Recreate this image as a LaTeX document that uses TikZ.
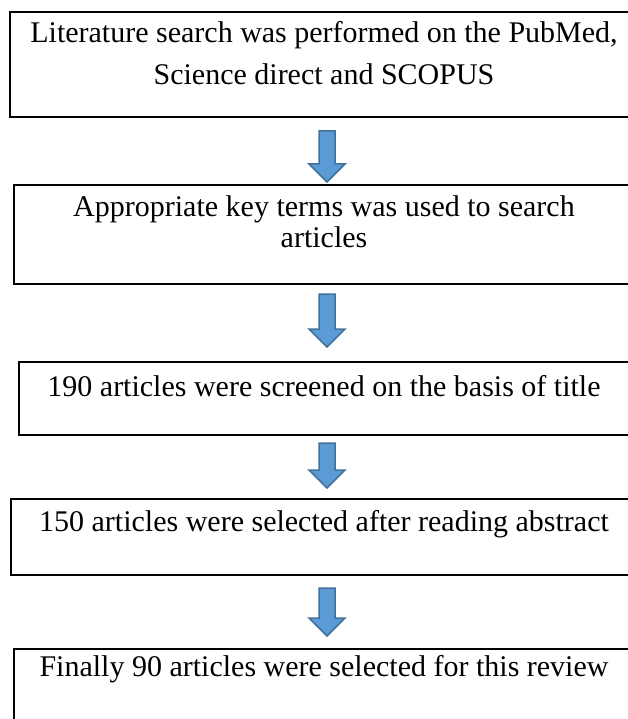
\documentclass[tikz,border=0pt]{standalone}
\usepackage{fontspec}
\setmainfont{Liberation Serif}
\usetikzlibrary{calc, positioning}
\definecolor{arrowblue}{RGB}{91,155,213}
\definecolor{arrowedge}{RGB}{65,113,156}
\tikzset{
  stage box/.style={
    draw,
    line width=2pt,
    inner sep=0pt,
  },
  stage text/.style={
    anchor=north,
    align=center,
    inner sep=0pt,
    font=\fontsize{30}{31}\selectfont,
  },
  flow arrow/.style={
    draw=arrowedge,
    fill=arrowblue,
    line width=1.5pt,
    to path={let \p1=(\tikztostart), \p2=(\tikztotarget) in
      (\x1-8pt,\y1) -- (\x1+8pt,\y1) -- (\x1+8pt,\y2+18pt) -- (\x1+18pt,\y2+18pt)
      -- (\x1,\y2) -- (\x1-18pt,\y2+18pt) -- (\x1-8pt,\y2+18pt) -- cycle},
  },
}

\begin{document}
\begin{tikzpicture}[x=1pt, y=-1pt]
      \useasboundingbox (0,0) rectangle (627,719);

      \node[stage box, minimum width=628pt, minimum height=105pt] (b1) at (324,64.5) {};
      \node[stage box, minimum width=620pt, minimum height=99pt]  (b2) at (324,234.5) {};
      \node[stage box, minimum width=610pt, minimum height=73pt]  (b3) at (324,398.5) {};
      \node[stage box, minimum width=626pt, minimum height=76pt]  (b4) at (324,537) {};
      \node[stage box, minimum width=620pt, minimum height=82pt]  (b5) at (324,690) {};

      \node[stage text, below=10pt of b1.north] (l1) {Literature search was performed on the PubMed,\\[11pt]Science direct and SCOPUS};
      \node[stage text, below=11pt of b2.north] (l2) {Appropriate key terms was used to search\\articles};
      \node[stage text, below=14pt of b3.north] (l3) {190 articles were screened on the basis of title};
      \node[stage text, below=12pt of b4.north] (l4) {150 articles were selected after reading abstract};
      \node[stage text, below=7pt of b5.north]  (l5) {Finally 90 articles were selected for this review};

      \coordinate (top1) at (327,131);
      \coordinate (tip1) at (327,182);
      \coordinate (top2) at (327,294);
      \coordinate (tip2) at (327,347);
      \coordinate (top3) at (327,443);
      \coordinate (tip3) at (327,488);
      \coordinate (top4) at (327,588);
      \coordinate (tip4) at (327,636);

      \path[flow arrow] (top1) to (tip1);
      \path[flow arrow] (top2) to (tip2);
      \path[flow arrow] (top3) to (tip3);
      \path[flow arrow] (top4) to (tip4);
    \end{tikzpicture}
\end{document}
